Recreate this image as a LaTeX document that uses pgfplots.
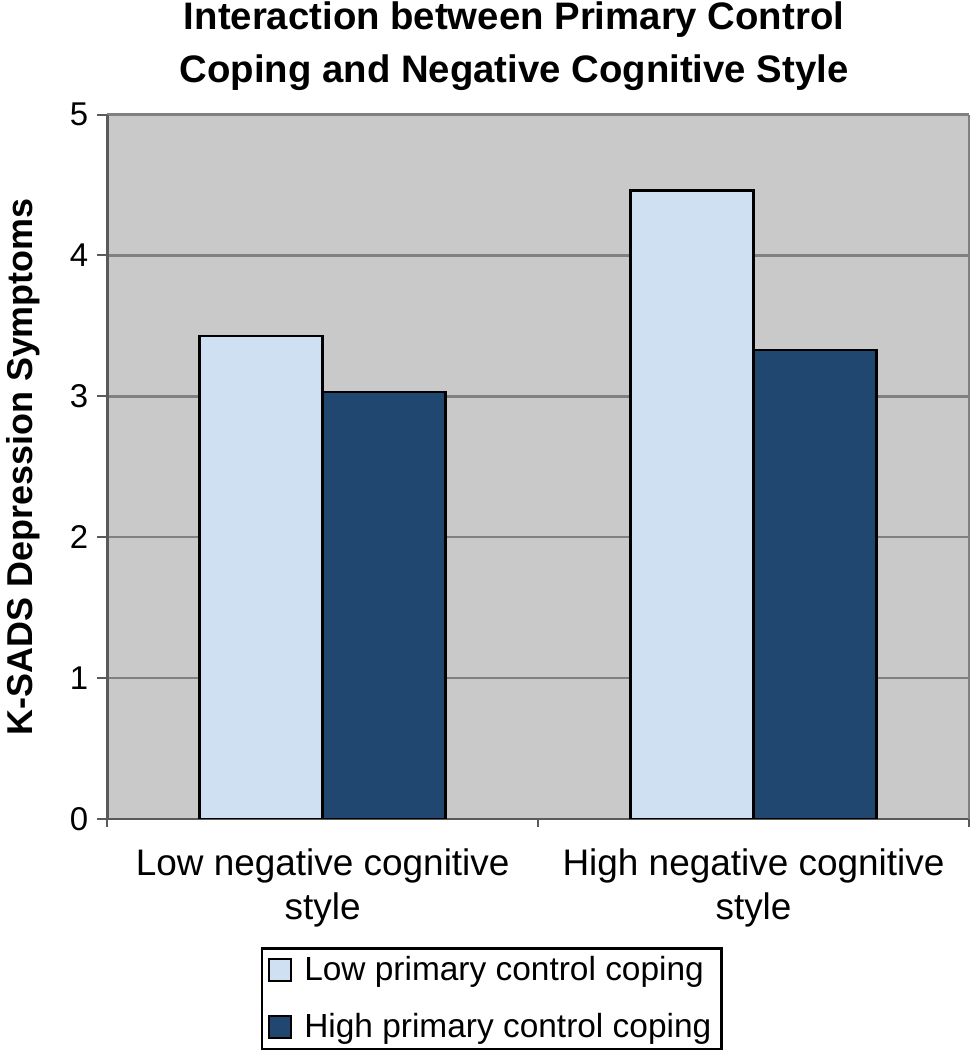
\documentclass[border=0pt]{standalone}
\usepackage{fontspec}
\setmainfont{Liberation Sans}
\usepackage{pgfplots}
\pgfplotsset{compat=1.18}
\definecolor{PlotGray}{HTML}{C9C9C9}
\definecolor{GridGray}{HTML}{808080}
\definecolor{AxisDark}{HTML}{5A5A5A}
\definecolor{LowPCC}{HTML}{CFE0F2}
\definecolor{HighPCC}{HTML}{1F4770}

\begin{document}
\begin{tikzpicture}
\begin{axis}[
    scale only axis,
    width=430bp,
    height=351.5bp,
    xmin=-0.5, xmax=1.5,
    ymin=0, ymax=5,
    ybar,
    bar width=0.2855,
    axis lines=left,
    axis line style={-, draw=AxisDark, line width=1.3bp},
    axis background/.style={fill=PlotGray},
    ytick={0,1,2,3,4,5},
    ymajorgrids=true,
    grid style={draw=GridGray, line width=1.3bp},
    xtick={0,1},
    xticklabels={{Low negative cognitive\\style},{High negative cognitive\\style}},
    major x tick style={draw=none},
    minor xtick={-0.5,0.5,1.5},
    minor x tick style={draw=AxisDark, line width=1bp},
    minor tick length=4bp,
    major tick length=5bp,
    tick align=outside,
    ytick style={draw=AxisDark, line width=1bp},
    extra x ticks={1.5},
    extra x tick labels={},
    extra x tick style={grid=major, major tick length=0bp},
    x tick label style={font=\fontsize{18.5}{22}\selectfont, align=center, yshift=-6.5bp},
    y tick label style={font=\fontsize{16.5}{16.5}\selectfont, xshift=-1bp},
    /pgf/number format/assume math mode=true,
    ylabel={K-SADS Depression Symptoms},
    ylabel style={font=\bfseries\fontsize{18}{18}\selectfont, yshift=8bp},
    title={Interaction between Primary Control\\Coping and Negative Cognitive Style},
    title style={font=\bfseries\fontsize{19.2}{26.5}\selectfont, align=center,
                 inner sep=0.7bp, xshift=-12bp, yshift=5.3bp},
    legend style={at={(0.446,-0.182)}, anchor=north, draw=black, line width=1.2bp,
                  font=\fontsize{16.75}{16.75}\selectfont, row sep=11bp,
                  inner xsep=3bp, inner ysep=2bp,
                  /tikz/every odd column/.append style={column sep=4bp}},
    legend cell align=left,
    legend image code/.code={\draw[#1, line width=1.2bp] (0bp,-5.5bp) rectangle (11bp,5.5bp);},
]
\addplot[fill=LowPCC, draw=black, line width=1.2bp, bar shift=-0.14275]
    coordinates {(0,3.43) (1,4.46)};
\addplot[fill=HighPCC, draw=black, line width=1.2bp, bar shift=0.14275]
    coordinates {(0,3.03) (1,3.33)};
\legend{Low primary control coping, High primary control coping}
\end{axis}
\end{tikzpicture}
\end{document}
